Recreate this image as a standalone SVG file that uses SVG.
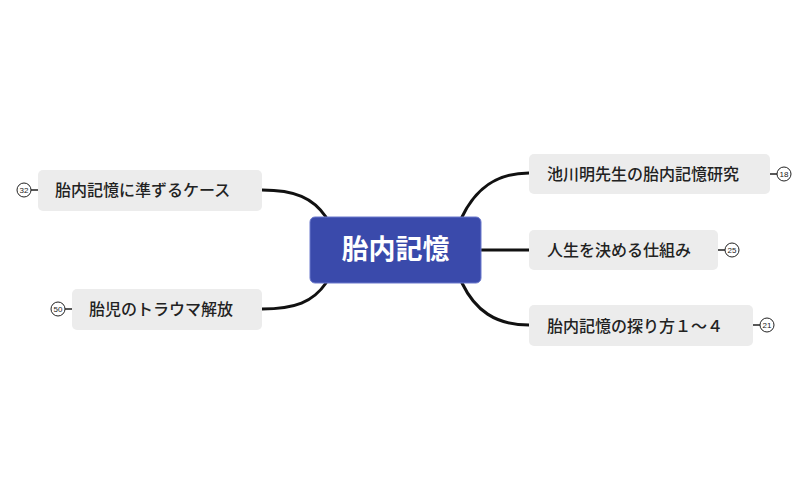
<svg xmlns="http://www.w3.org/2000/svg" width="808" height="500" viewBox="0 0 808 500">
<style>
.c{fill:none;stroke:#111;stroke-width:3;stroke-linecap:round}
.n{fill:#ececec}
.t{font-family:"Noto Sans CJK JP",sans-serif;font-size:16px;fill:#222;font-weight:500}
.b{fill:#fff;stroke:#222;stroke-width:1}
.bt{font-family:"Liberation Sans",sans-serif;font-size:8px;fill:#222;text-anchor:middle}
.l{stroke:#222;stroke-width:1.5}
</style>
<rect width="808" height="500" fill="#fff"/>
<g id="connectors">
<path class="c" d="M462,217 C475,190 495,173 529,173"/>
<path class="c" d="M480,250 L529,250"/>
<path class="c" d="M462,283 C475,310 495,325 529,325"/>
<path class="c" d="M326,217 C313,198 295,190 262,190"/>
<path class="c" d="M326,283 C313,302 295,309 262,309"/>
</g>
<g id="center">
<rect x="310" y="217" width="171" height="66" rx="5" fill="#3a4aab" stroke="#6a78cc" stroke-width="1"/>
<text x="395.5" y="259" font-family="Noto Sans CJK JP,sans-serif" font-size="27" font-weight="bold" fill="#fff" text-anchor="middle">胎内記憶</text>
</g>
<g id="n1">
<rect class="n" x="529" y="154" width="241" height="40" rx="5"/>
<text class="t" x="547" y="180">池川明先生の胎内記憶研究</text>
<line class="l" x1="770" y1="174" x2="777" y2="174"/><circle class="b" cx="784" cy="174" r="7"/><text class="bt" x="784" y="177">18</text>
</g>
<g id="n2">
<rect class="n" x="529" y="230" width="189" height="40" rx="5"/>
<text class="t" x="547" y="256">人生を決める仕組み</text>
<line class="l" x1="718" y1="250" x2="725" y2="250"/><circle class="b" cx="732" cy="250" r="7"/><text class="bt" x="732" y="253">25</text>
</g>
<g id="n3">
<rect class="n" x="529" y="305" width="224" height="41" rx="5"/>
<text class="t" x="547" y="332">胎内記憶の探り方１～４</text>
<line class="l" x1="753" y1="325" x2="760" y2="325"/><circle class="b" cx="767" cy="325" r="7"/><text class="bt" x="767" y="328">21</text>
</g>
<g id="n4">
<rect class="n" x="38" y="170" width="224" height="41" rx="5"/>
<text class="t" x="55" y="196">胎内記憶に準ずるケース</text>
<line class="l" x1="31" y1="190" x2="38" y2="190"/><circle class="b" cx="24" cy="190" r="7"/><text class="bt" x="24" y="193">32</text>
</g>
<g id="n5">
<rect class="n" x="72" y="289" width="190" height="41" rx="5"/>
<text class="t" x="89" y="315">胎児のトラウマ解放</text>
<line class="l" x1="65" y1="309" x2="72" y2="309"/><circle class="b" cx="58" cy="309" r="7"/><text class="bt" x="58" y="312">50</text>
</g>
</svg>
